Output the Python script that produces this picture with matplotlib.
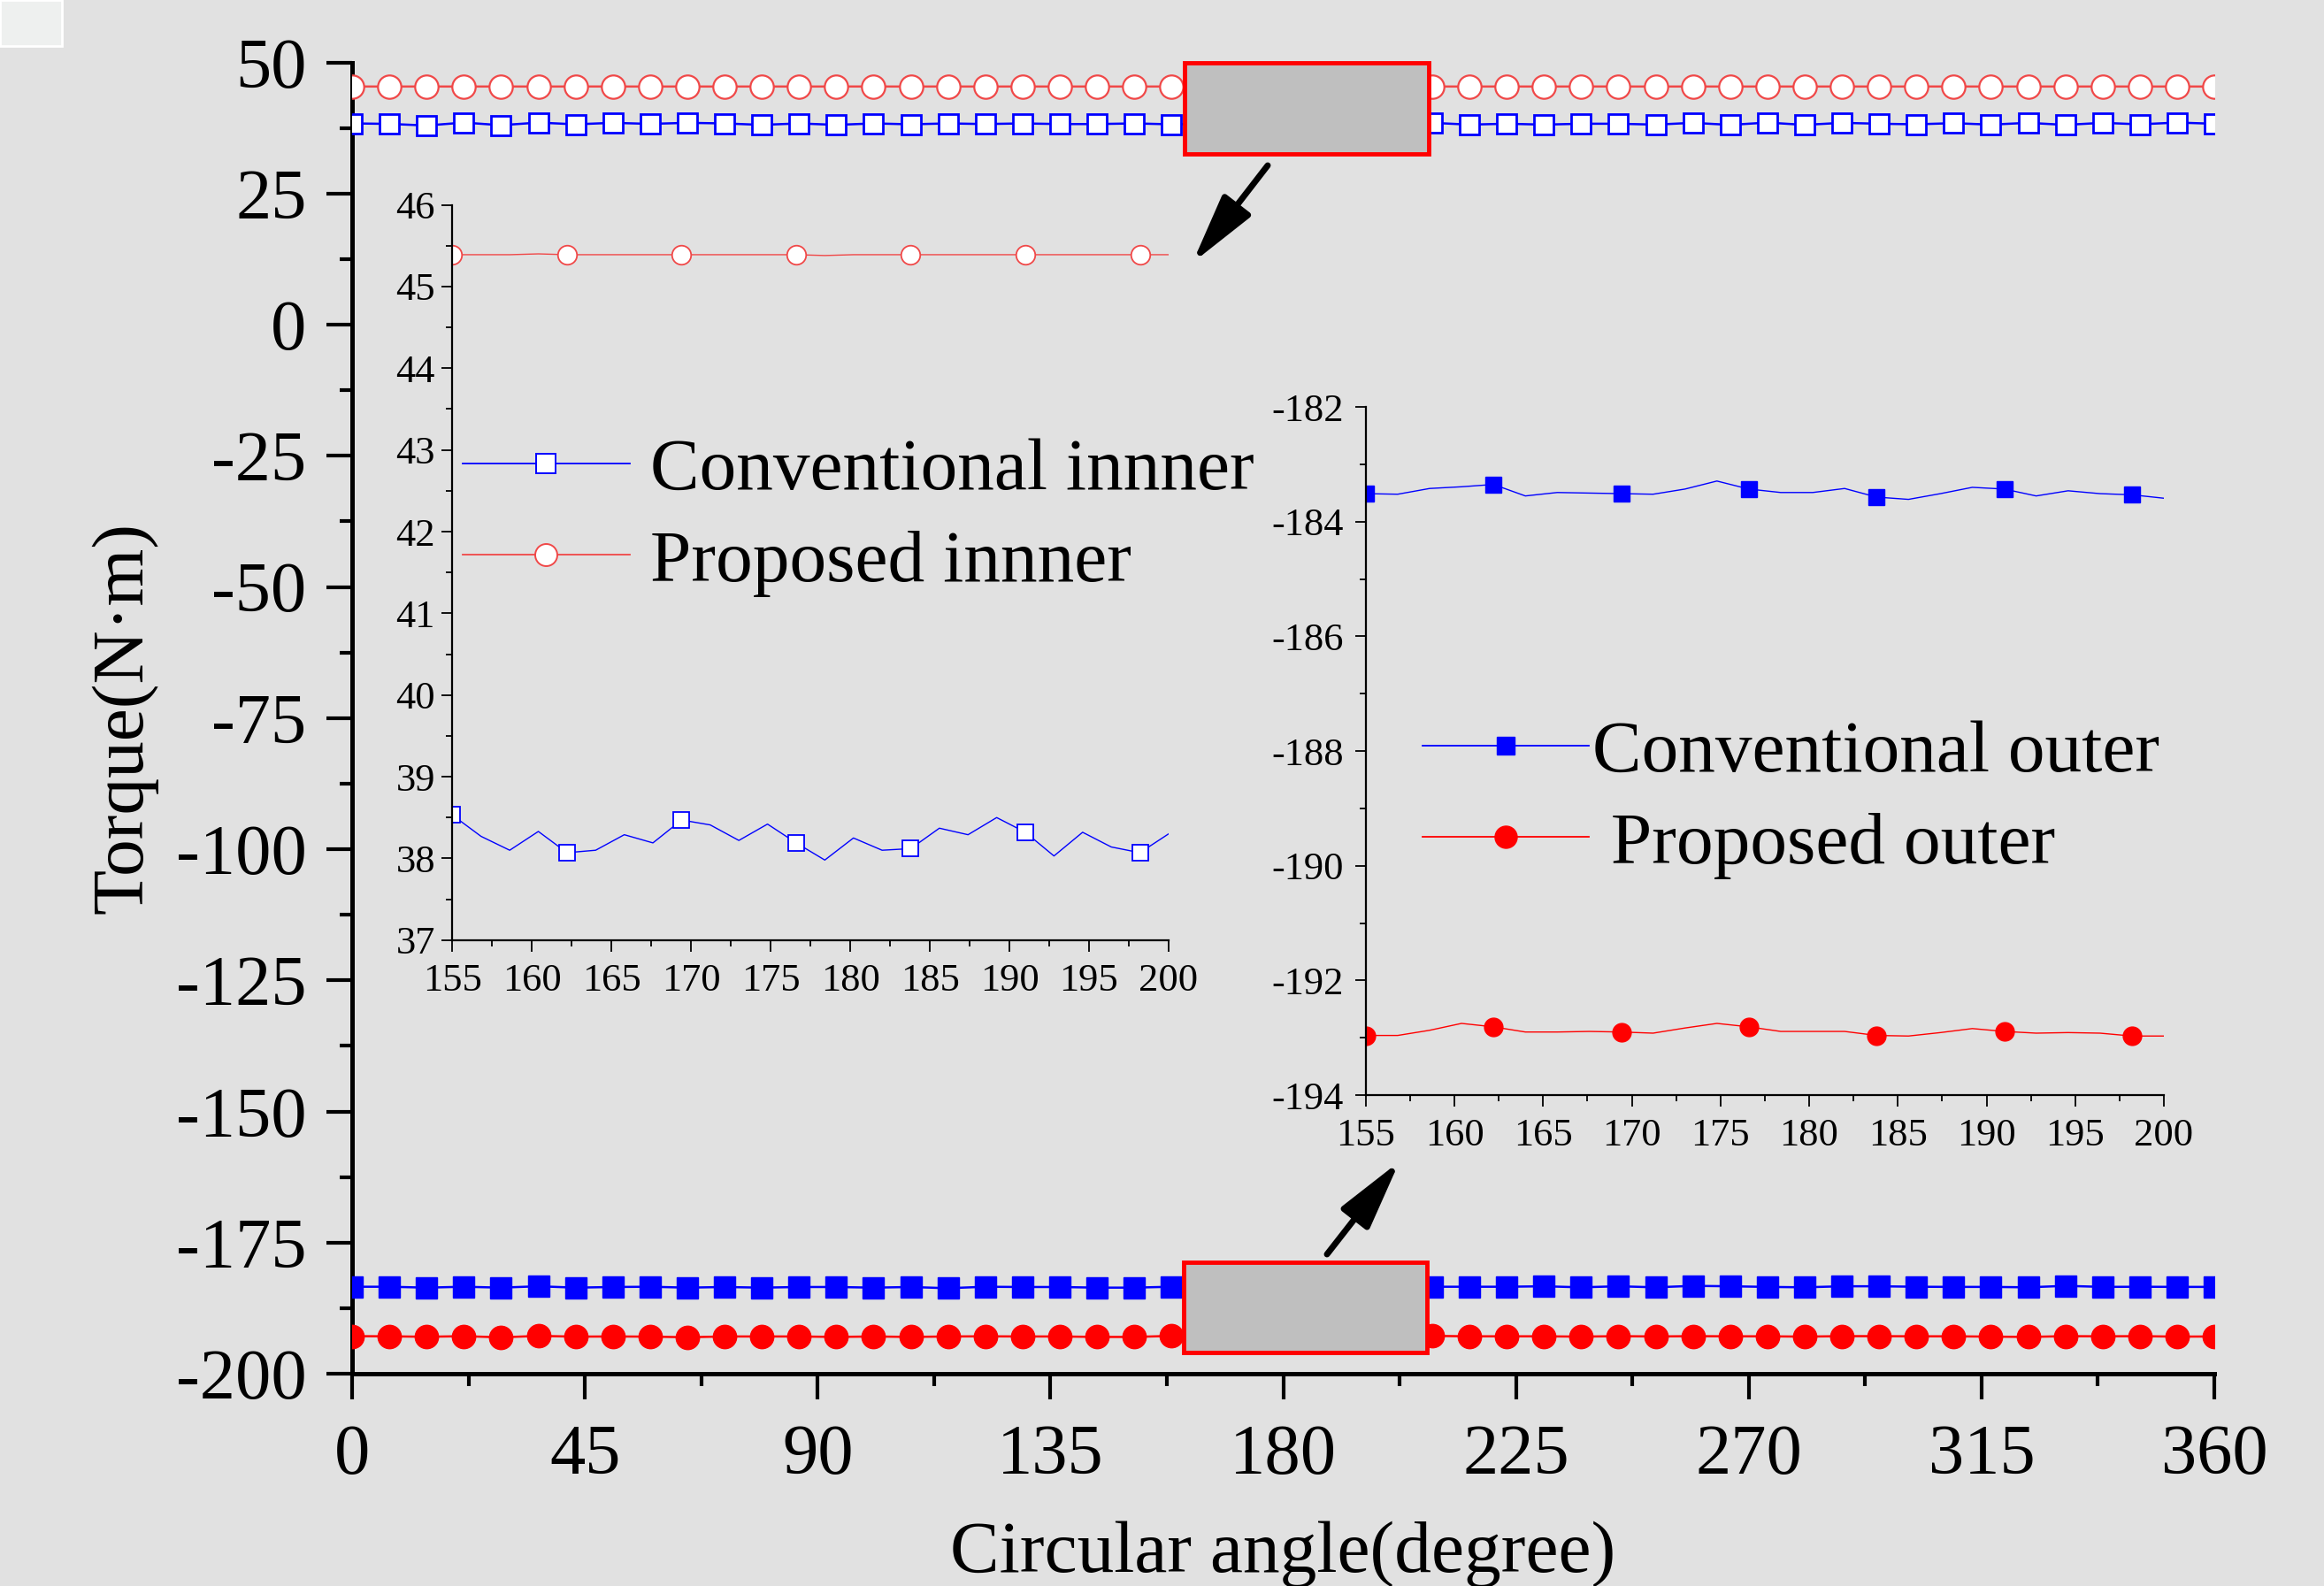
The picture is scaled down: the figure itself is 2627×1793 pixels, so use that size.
import numpy as np
import matplotlib
matplotlib.use("Agg")
import matplotlib.pyplot as plt
from matplotlib.lines import Line2D
from matplotlib.patches import Rectangle
from matplotlib.ticker import MultipleLocator

plt.rcParams['font.family'] = ['Liberation Serif', 'DejaVu Serif']
plt.rcParams['axes.unicode_minus'] = False

BG = '#e1e1e1'
BLUE = '#0000ff'
RED = '#ff0000'
RED_LIGHT = '#f04848'

# main chart: torque at every 7.2 degree (marker positions)
angle = np.linspace(0, 360, 51)
conv_inner = [38.36, 38.27, 37.96, 38.52, 38.02, 38.52, 38.19, 38.47, 38.27, 38.47,
              38.36, 38.08, 38.36, 38.08, 38.36, 38.19, 38.36, 38.24, 38.36, 38.24,
              38.24, 38.36, 38.19, 38.29, 38.22, 38.25, 38.29, 38.32, 38.30, 38.47,
              38.13, 38.30, 38.13, 38.30, 38.30, 38.13, 38.47, 38.08, 38.52, 38.08,
              38.47, 38.30, 38.19, 38.41, 38.13, 38.47, 38.08, 38.47, 38.19, 38.52,
              38.30]
prop_inner = [45.40, 45.39, 45.40, 45.39, 45.40, 45.39, 45.40, 45.40, 45.39, 45.40,
              45.39, 45.40, 45.39, 45.40, 45.40, 45.39, 45.40, 45.39, 45.40, 45.39,
              45.40, 45.39, 45.40, 45.39, 45.39, 45.39, 45.39, 45.39, 45.39, 45.40,
              45.39, 45.40, 45.39, 45.40, 45.40, 45.39, 45.40, 45.39, 45.40, 45.39,
              45.40, 45.39, 45.40, 45.40, 45.39, 45.40, 45.39, 45.40, 45.39, 45.40,
              45.39]
conv_outer = [-183.42, -183.42, -183.59, -183.42, -183.59, -183.33, -183.59, -183.47, -183.42, -183.59,
              -183.47, -183.59, -183.47, -183.47, -183.59, -183.47, -183.70, -183.42, -183.47, -183.47,
              -183.59, -183.59, -183.42, -183.49, -183.29, -183.49, -183.51, -183.46, -183.55, -183.42,
              -183.42, -183.42, -183.33, -183.53, -183.33, -183.53, -183.25, -183.33, -183.45, -183.53,
              -183.33, -183.33, -183.42, -183.45, -183.45, -183.53, -183.25, -183.45, -183.42, -183.45,
              -183.45]
prop_outer = [-192.84, -192.87, -192.96, -192.84, -193.07, -192.79, -192.93, -192.90, -192.93, -193.05,
              -192.90, -192.90, -192.90, -192.99, -192.90, -192.99, -192.90, -192.87, -192.90, -192.90,
              -192.99, -192.99, -192.79, -192.90, -192.83, -192.89, -192.91, -192.91, -192.95, -192.79,
              -192.87, -192.87, -192.87, -192.93, -192.84, -192.90, -192.84, -192.87, -192.87, -192.93,
              -192.84, -192.84, -192.87, -192.87, -192.93, -192.99, -192.84, -192.87, -192.84, -192.93,
              -192.90]

# zoomed window 155-200 degree, 1.8 degree step
zoom_angle = np.linspace(155, 200, 26)
conv_inner_zoom = [38.53, 38.27, 38.10, 38.33, 38.07, 38.10, 38.29, 38.19, 38.47, 38.41,
                   38.22, 38.42, 38.19, 37.98, 38.25, 38.10, 38.12, 38.37, 38.29, 38.50,
                   38.32, 38.03, 38.32, 38.14, 38.07, 38.30]
prop_inner_zoom = [45.39, 45.39, 45.39, 45.40, 45.39, 45.39, 45.39, 45.39, 45.39, 45.39,
                   45.39, 45.39, 45.39, 45.38, 45.39, 45.39, 45.39, 45.39, 45.39, 45.39,
                   45.39, 45.39, 45.39, 45.39, 45.39, 45.39]
conv_outer_zoom = [-183.51, -183.52, -183.42, -183.39, -183.35, -183.55, -183.49, -183.50, -183.51, -183.52,
                   -183.43, -183.29, -183.43, -183.49, -183.49, -183.42, -183.57, -183.61, -183.51, -183.40,
                   -183.43, -183.55, -183.46, -183.51, -183.53, -183.59]
prop_outer_zoom = [-192.96, -192.96, -192.87, -192.75, -192.81, -192.90, -192.90, -192.89, -192.90, -192.92,
                   -192.83, -192.75, -192.81, -192.89, -192.89, -192.89, -192.96, -192.97, -192.91, -192.84,
                   -192.89, -192.92, -192.91, -192.92, -192.97, -192.97]

labels_inner = ['Conventional innner', 'Proposed innner']
labels_outer = ['Conventional outer', ' Proposed outer']

W, H = 2627, 1793
fig = plt.figure(figsize=(W / 100, H / 100), dpi=100, facecolor=BG)
fig.patches.append(Rectangle((0, 1 - 52 / H), 70 / W, 52 / H, transform=fig.transFigure,
                             fc='#eef0ef', ec='white', lw=2))

# ---- main axes ----
ax = fig.add_axes([398 / W, 1 - 1553 / H, (2503 - 398) / W, (1553 - 70.5) / H])
ax.set_facecolor('none')
ax.plot(angle, prop_inner, color=RED_LIGHT, lw=1.8, marker='o', ms=19, mfc='white',
        mec=RED_LIGHT, mew=1.6, zorder=3)
ax.plot(angle, conv_inner, color=BLUE, lw=1.8, marker='s', ms=16.5, mfc='white',
        mec=BLUE, mew=2.0, zorder=3)
ax.plot(angle, conv_outer, color=BLUE, lw=1.8, marker='s', ms=17, mfc=BLUE, mec=BLUE, zorder=3)
ax.plot(angle, prop_outer, color=RED, lw=1.8, marker='o', ms=19, mfc=RED, mec=RED, zorder=3)

ax.set_xlim(0, 360)
ax.set_ylim(-200, 50)
ax.xaxis.set_major_locator(MultipleLocator(45))
ax.xaxis.set_minor_locator(MultipleLocator(22.5))
ax.yaxis.set_major_locator(MultipleLocator(25))
ax.yaxis.set_minor_locator(MultipleLocator(12.5))
for s in ['top', 'right']:
    ax.spines[s].set_visible(False)
for s in ['left', 'bottom']:
    ax.spines[s].set_linewidth(3.6)
ax.tick_params(which='major', direction='out', length=21, width=3, labelsize=58)
ax.tick_params(which='minor', direction='out', length=10, width=3)
ax.tick_params(axis='x', which='major', pad=20)
ax.tick_params(axis='y', which='major', pad=16)

ax.set_xlabel('Circular angle(degree)', fontsize=60)
ax.xaxis.set_label_coords(0.5, -(1777 - 1553) / (1553 - 70.5))
ax.xaxis.label.set_va('baseline')
ax.set_ylabel('Torque(N·m)', fontsize=60, rotation_mode='anchor')
ax.yaxis.set_label_coords(-(398 - 160) / (2503 - 398), 0.5)
ax.yaxis.label.set_va('baseline')
ax.yaxis.label.set_ha('center')

# zoom boxes
ax.add_patch(Rectangle((160.9, 32.6), 47.2, 17.4, fc='#bfbfbf', ec=RED, lw=3.5,
                       zorder=5, clip_on=False))
ax.add_patch(Rectangle((160.7, -195.95), 47.1, 17.26, fc='#bfbfbf', ec=RED, lw=3.5,
                       zorder=5, clip_on=False))

arrow_kw = dict(arrowstyle='-|>,head_length=0.6,head_width=0.15', lw=5, color='black',
                shrinkA=0, shrinkB=0, mutation_scale=80, joinstyle='round')
ax.annotate('', xy=(1348, H - 297), xytext=(1433, H - 187), xycoords='figure pixels',
            textcoords='figure pixels', arrowprops=arrow_kw)
ax.annotate('', xy=(1582, H - 1313), xytext=(1500, H - 1418), xycoords='figure pixels',
            textcoords='figure pixels', arrowprops=arrow_kw)

# ---- inset: inner rotor ----
ax1 = fig.add_axes([511.4 / W, 1 - 1062.8 / H, (1320.9 - 511.4) / W, (1062.8 - 231.6) / H])
ax1.set_facecolor('none')
ax1.plot(zoom_angle, prop_inner_zoom, color=RED_LIGHT, lw=1.0, marker='o', ms=15.5,
         mfc='white', mec=RED_LIGHT, mew=1.3, markevery=4)
ax1.plot(zoom_angle, conv_inner_zoom, color=BLUE, lw=1.0, marker='s', ms=13.5,
         mfc='white', mec=BLUE, mew=1.3, markevery=4)
ax1.set_xlim(155, 200)
ax1.set_ylim(37, 46)
ax1.xaxis.set_major_locator(MultipleLocator(5))
ax1.xaxis.set_minor_locator(MultipleLocator(2.5))
ax1.yaxis.set_major_locator(MultipleLocator(1))
ax1.yaxis.set_minor_locator(MultipleLocator(0.5))

# ---- inset: outer rotor ----
ax2 = fig.add_axes([1543.8 / W, 1 - 1238 / H, (2446 - 1543.8) / W, (1238 - 460.2) / H])
ax2.set_facecolor('none')
ax2.plot(zoom_angle, conv_outer_zoom, color=BLUE, lw=1.0, marker='s', ms=13.5,
         mfc=BLUE, mec=BLUE, markevery=4)
ax2.plot(zoom_angle, prop_outer_zoom, color=RED, lw=1.0, marker='o', ms=15,
         mfc=RED, mec=RED, markevery=4)
ax2.set_xlim(155, 200)
ax2.set_ylim(-194, -182)
ax2.xaxis.set_major_locator(MultipleLocator(5))
ax2.xaxis.set_minor_locator(MultipleLocator(2.5))
ax2.yaxis.set_major_locator(MultipleLocator(2))
ax2.yaxis.set_minor_locator(MultipleLocator(1))

for a in (ax1, ax2):
    for s in ['top', 'right']:
        a.spines[s].set_visible(False)
    for s in ['left', 'bottom']:
        a.spines[s].set_linewidth(1.6)
    a.tick_params(which='major', direction='out', length=9, width=1.3, labelsize=32)
    a.tick_params(which='minor', direction='out', length=5, width=1.3)
    a.tick_params(axis='x', which='major', pad=10)
ax1.tick_params(axis='y', which='major', pad=5)
ax2.tick_params(axis='y', which='major', pad=9)

h_inner = [Line2D([], [], color=BLUE, lw=1.3, marker='s', ms=16.5, mfc='white', mec=BLUE, mew=1.4),
           Line2D([], [], color=RED_LIGHT, lw=1.3, marker='o', ms=18, mfc='white', mec=RED_LIGHT, mew=1.4)]
ax1.legend(h_inner, labels_inner, loc='center left', bbox_to_anchor=(522.9 / W, 1 - 584.5 / H),
           bbox_transform=fig.transFigure, frameon=False, fontsize=60, handlelength=2.27,
           handletextpad=0.28, borderpad=0, borderaxespad=0, labelspacing=0.33, numpoints=1)

h_outer = [Line2D([], [], color=BLUE, lw=1.3, marker='s', ms=15, mfc=BLUE, mec=BLUE),
           Line2D([], [], color=RED, lw=1.3, marker='o', ms=18, mfc=RED, mec=RED)]
ax2.legend(h_outer, labels_outer, loc='center left', bbox_to_anchor=(1608 / W, 1 - 903.5 / H),
           bbox_transform=fig.transFigure, frameon=False, fontsize=60, handlelength=2.26,
           handletextpad=0.05, borderpad=0, borderaxespad=0, labelspacing=0.33, numpoints=1)

fig.savefig('out.png', dpi=100, facecolor=BG)
